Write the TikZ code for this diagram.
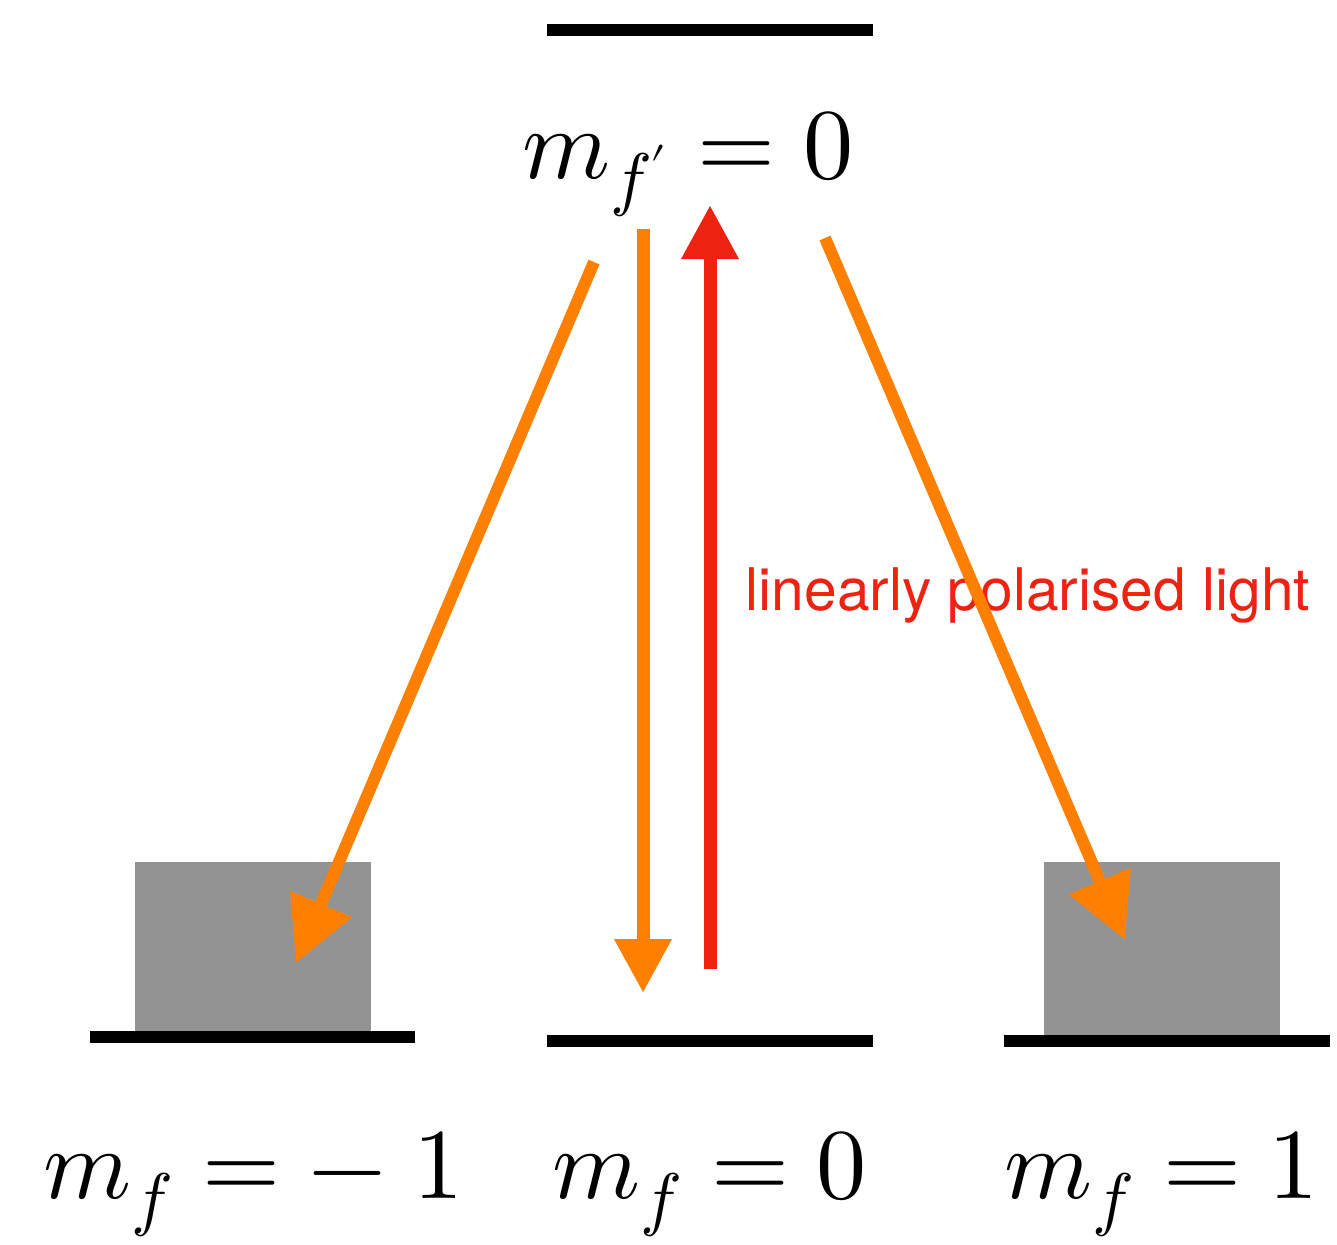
\documentclass[tikz,border=0pt]{standalone}
\usepackage{fontspec}
\usepackage{unicode-math}
\newfontfamily\helv{TeX Gyre Heros}
\usetikzlibrary{arrows.meta}
\definecolor{tangerine}{RGB}{255,127,0}
\definecolor{laser}{RGB}{238,34,17}
\definecolor{boxgray}{RGB}{147,147,147}
\tikzset{
  level/.style={draw=black,line width=0.12cm},
  decay/.style={draw=tangerine,line width=0.12cm,-{Triangle[length=0.64cm,width=0.64cm]}},
  decay down/.style={draw=tangerine,line width=0.13cm,-{Triangle[length=0.54cm,width=0.54cm]}},
  pump/.style={draw=laser,line width=0.13cm,-{Triangle[length=0.54cm,width=0.54cm]}},
  state/.style={font=\fontsize{28.5}{34}\selectfont,anchor=base,inner sep=0pt},
  tag/.style={font=\helv\fontsize{16.7}{20}\selectfont,text=laser,anchor=base west,inner sep=0pt},
}
\begin{document}
\begin{tikzpicture}[x=0.01cm,y=-0.01cm]
  \useasboundingbox (0,0) rectangle (1337,1244);
  % populated ground states
  \fill[boxgray] (135,862) rectangle (371,1031);
  \fill[boxgray] (1044,862) rectangle (1280,1035);
  % levels
  \draw[level] (547,30) -- (873,30);
  \draw[level] (90,1037) -- (415,1037);
  \draw[level] (547,1041) -- (873,1041);
  \draw[level] (1004,1041) -- (1330,1041);
  \node[state] (exc) at (688,178) {$m_{f'} = 0$};
  \node[state] (gm) at (254,1198) {$m_f = -\;1$};
  \node[state] (g0) at (710,1198) {$m_f = 0$};
  \node[state] (gp) at (1162,1198) {$m_f = 1$};
  \node[tag] (light) at (745,610) {linearly polarised light};
  % arrow ends
  \coordinate (top-l) at (594,262); \coordinate (low-l) at (296,963);
  \coordinate (top-m) at (643,229); \coordinate (low-m) at (643,993);
  \coordinate (pump-s) at (710,969); \coordinate (pump-t) at (710,205);
  \coordinate (top-r) at (825,238); \coordinate (low-r) at (1125,940);
  \draw[pump] (pump-s) -- (pump-t);
  \draw[decay down] (top-m) -- (low-m);
  \draw[decay] (top-l) -- (low-l);
  \draw[decay] (top-r) -- (low-r);
\end{tikzpicture}
\end{document}
